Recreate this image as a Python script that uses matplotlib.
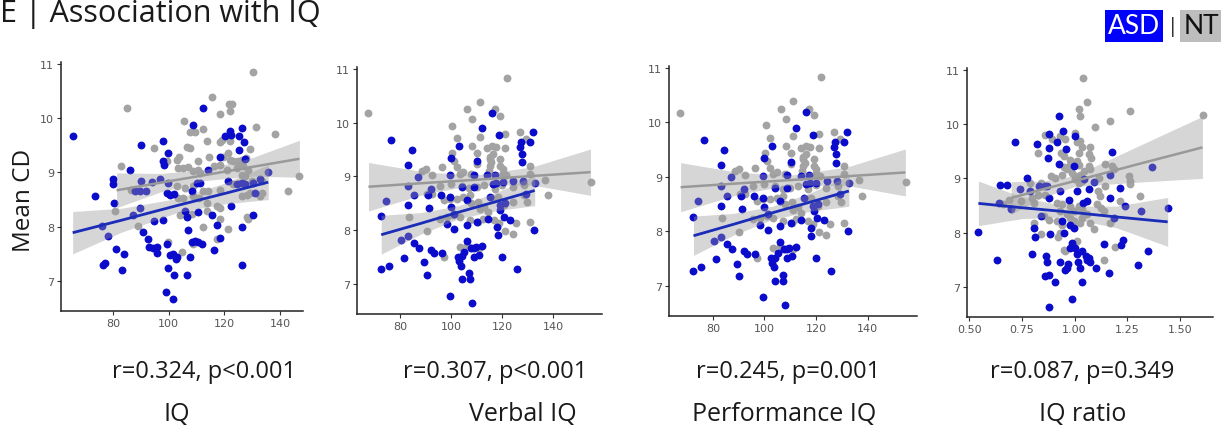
import matplotlib.pyplot as plt

FIG_W, FIG_H = 1221, 431

BLUE = "#0b0bcc"
BLUE_LINE = "#1a2cb8"
GREY = "#a3a3a3"
GREY_LINE = "#999999"
BAND = "#999999"
LABEL_FONT = ["Open Sans", "DejaVu Sans"]

plt.rcParams["font.family"] = ["Lato", "DejaVu Sans"]

# ---- panel 1: IQ ----
iq_asd_x = [65.4, 73.3, 76.0, 76.4, 77.0, 78.2, 80.0, 80.0, 80.2, 81.0, 83.0, 84.0, 86.0, 87.0, 87.8,
            89.6, 90.0, 89.8, 90.0, 90.8, 91.8, 92.6, 93.0, 93.8, 94.2, 94.8, 95.6, 95.8, 96.8, 97.8,
            97.8, 97.8, 98.2, 99.2, 99.0, 99.8, 99.8, 99.2, 99.8, 100.4, 100.4, 101.6, 101.6, 101.8,
            102.0, 102.6, 102.8, 105.8, 106.4, 106.7, 106.8, 107.6, 108.2, 108.2, 108.8, 109.4, 110.0,
            110.6, 110.6, 111.2, 111.8, 112.2, 114.0, 115.4, 116.4, 117.2, 118.4, 118.6, 120.2, 121.4,
            122.0, 122.4, 122.3, 124.4, 125.4, 125.3, 126.2, 126.2, 126.2, 126.5, 127.2, 127.4, 127.4,
            130.2, 130.4, 131.0, 132.8, 135.8]
iq_asd_y = [9.67, 8.56, 8.02, 7.30, 7.34, 7.83, 8.87, 8.79, 8.44, 7.59, 7.21, 7.50, 9.04, 8.22, 8.65,
            8.65, 9.50, 8.34, 8.84, 7.90, 8.65, 7.78, 7.63, 8.82, 7.61, 8.11, 7.51, 7.62, 8.87, 8.12,
            9.57, 9.21, 9.14, 7.68, 6.80, 9.35, 7.24, 8.62, 8.80, 8.59, 7.48, 7.50, 6.67, 8.61,
            7.11, 7.40, 7.44, 8.29, 7.12, 8.18, 7.94, 7.45, 8.65, 7.71, 9.87, 7.74, 8.81,
            7.72, 8.27, 8.81, 7.68, 10.18, 9.05, 8.22, 7.57, 8.03, 9.28, 7.80, 9.66, 8.85,
            9.77, 9.69, 8.39, 8.79, 9.66, 9.42, 8.00, 7.30, 8.81, 9.82, 9.55, 9.24, 8.78,
            8.21, 8.81, 8.62, 8.87, 9.00]
iq_nt_x = [82.8, 84.8, 80.6, 86.4, 88.8, 94.8, 99.4, 99.8, 102.8, 103.6, 103.4, 102.8, 103.4, 104.2,
           104.6, 105.6, 105.2, 105.8, 105.2, 106.4, 106.2, 107.6, 107.6, 107.0, 108.8, 108.8, 108.8,
           108.2, 108.8, 109.4, 110.6, 110.6, 111.2, 111.0, 112.4, 112.4, 112.4, 113.6, 113.6, 113.6,
           114.2, 114.5, 115.4, 116.3, 117.2, 117.2, 118.4, 118.4, 118.4, 118.4, 118.4, 118.4, 119.0,
           119.6, 120.8, 121.4, 121.4, 121.8, 122.2, 122.6, 122.0, 122.0, 123.2, 123.2, 124.4, 125.0,
           125.6, 126.2, 126.8, 126.2, 126.2, 127.4, 127.7, 128.0, 128.0, 128.6, 128.6, 129.2, 129.2,
           129.8, 130.2, 131.4, 132.8, 133.4, 133.4, 138.2, 143.0, 147.0]
iq_nt_y = [9.12, 10.18, 8.29, 8.67, 8.01, 9.44, 9.20, 7.71, 9.23, 9.28, 9.08, 8.75, 8.53, 8.22,
           7.53, 9.95, 9.08, 8.72, 8.53, 9.46, 8.23, 9.74, 9.45, 9.09, 9.02, 8.75, 8.56,
           8.23, 7.68, 9.74, 9.20, 9.05, 8.99, 8.53, 9.79, 8.65, 8.00, 9.58, 8.44, 8.29,
           8.65, 9.29, 10.39, 9.11, 8.38, 7.77, 10.07, 9.55, 9.14, 8.68, 8.35, 8.15, 9.60,
           9.29, 9.05, 9.35, 7.95, 10.26, 10.13, 10.26, 9.57, 9.23, 9.20, 8.78, 9.08, 9.20,
           8.81, 9.23, 9.11, 8.96, 8.56, 8.93, 9.26, 8.59, 8.18, 9.05, 8.14, 9.43, 8.62,
           8.84, 10.85, 9.83, 8.56, 8.62, 8.84, 9.70, 8.65, 8.93]
iq_asd_fit_x = [65.4, 83, 103, 120, 135.8]
iq_asd_fit_y = [7.89, 8.12, 8.39, 8.61, 8.82]
iq_asd_lo = [7.50, 7.90, 8.26, 8.42, 8.50]
iq_asd_hi = [8.28, 8.34, 8.52, 8.80, 9.14]
iq_nt_fit_x = [81.2, 97, 113, 130, 147]
iq_nt_fit_y = [8.67, 8.81, 8.95, 9.10, 9.25]
iq_nt_lo = [8.35, 8.64, 8.85, 8.93, 8.91]
iq_nt_hi = [8.99, 8.98, 9.05, 9.27, 9.59]

# ---- panels 2 and 3: verbal / performance IQ (same points in the source figure) ----
viq_asd_x = [72.3, 72.3, 75.5, 74.2, 76.4, 80.4, 81.3, 83.2, 83.2, 83.2, 83.2, 84.5, 85.5, 85.5, 87.1,
             87.3, 89.4, 90.3, 91.3, 90.9, 92.2, 92.2, 93.2, 95.8, 96.3, 98.4, 99.3, 99.3, 99.7, 99.3,
             99.9, 101.2, 101.2, 102.5, 103.1, 104.0, 103.8, 103.1, 104.0, 104.0, 105.1, 106.0, 106.1,
             106.1, 107.0, 107.3, 108.0, 107.6, 108.9, 109.6, 108.9, 110.2, 108.9, 108.9, 110.2, 110.8,
             112.1, 112.1, 114.1, 114.3, 115.3, 116.0, 116.2, 117.3, 117.7, 117.9, 118.2, 118.7, 118.9,
             119.2, 119.8, 120.1, 120.5, 120.9, 123.1, 124.3, 125.6, 126.9, 127.2, 127.8, 127.8, 128.2,
             129.2, 130.8, 132.1, 132.3, 132.7]
viq_asd_y = [8.26, 7.28, 7.34, 8.55, 9.67, 7.83, 7.49, 9.21, 8.83, 8.47, 7.89, 9.49, 8.65, 7.76, 8.99,
             7.67, 7.41, 7.18, 8.41, 8.65, 8.77, 7.64, 7.58, 8.65, 7.58, 8.12, 9.02, 8.62, 8.44, 6.79,
             9.35, 8.31, 8.02, 7.51, 7.43, 7.52, 7.34, 9.57, 8.80, 7.10, 7.60, 8.56, 8.10,
             7.80, 7.21, 7.09, 6.66, 7.67, 7.67, 7.70, 9.03, 9.28, 8.80, 7.51, 8.16, 7.55,
             9.89, 7.72, 9.02, 8.21, 8.62, 10.18, 8.86, 9.03, 8.88, 8.07, 7.92, 9.77, 8.47,
             8.38, 7.51, 8.89, 8.25, 8.50, 8.20, 8.92, 7.28, 9.55, 9.64, 9.26, 9.41, 8.92,
             8.68, 9.64, 9.83, 8.00, 8.88]
viq_nt_x = [67.4, 122.0, 111.1, 106.3, 117.3, 119.1, 108.3, 100.4, 111.1, 102.1, 121.0, 126.9, 129.1,
            108.2, 114.1, 116.0, 117.5, 121.0, 100.2, 110.2, 115.0, 116.2, 100.9, 115.0, 115.6, 119.1,
            119.1, 120.1, 110.2, 96.3, 90.0, 88.6, 115.0, 114.6, 131.0, 102.1, 104.7, 103.4, 107.9,
            92.5, 120.1, 121.4, 131.0, 136.8, 154.8, 100.0, 104.0, 107.0, 110.0, 113.0, 117.0, 120.0,
            124.0, 128.5, 95.7, 90.5, 92.5, 97.0, 99.5, 102.1, 104.7, 107.2, 107.9, 110.5, 111.1,
            113.0, 114.3, 116.9, 118.2, 119.5, 120.8, 124.0, 128.5, 129.7, 137.8, 83.5, 95.7, 98.3,
            100.8, 103.4, 107.2, 110.5, 112.4, 116.9, 118.8, 125.2, 131.0, 90.3, 103.4, 106.0, 107.9,
            111.0, 97.2, 121.2, 124.0]
viq_nt_y = [10.17, 10.83, 10.39, 10.25, 10.25, 10.13, 10.06, 9.94, 9.74, 9.72, 9.78, 9.82, 9.69,
            9.56, 9.53, 9.56, 9.55, 9.53, 9.44, 9.43, 9.37, 9.41, 9.29, 9.32, 9.26, 9.32,
            9.20, 9.14, 9.23, 9.17, 9.14, 9.10, 9.20, 9.11, 9.20, 9.17, 9.08, 9.05, 9.05,
            9.03, 9.05, 9.02, 9.05, 8.94, 8.90, 8.86, 8.83, 8.78, 8.80, 8.84, 8.77, 8.85,
            8.80, 8.84, 8.83, 8.68, 8.68, 8.56, 8.59, 8.59, 8.62, 8.65, 8.50, 8.53, 8.40,
            8.44, 8.34, 8.59, 8.62, 8.47, 8.47, 8.53, 8.65, 8.53, 8.65, 8.25, 8.22, 8.25,
            8.28, 8.25, 8.19, 8.16, 8.22, 8.19, 8.13, 8.13, 8.16, 7.99, 7.70, 7.73, 7.67,
            7.67, 7.51, 7.99, 7.93]
viq_asd_fit_x = [72.5, 88, 103, 118, 132.7]
viq_asd_fit_y = [7.92, 8.13, 8.34, 8.54, 8.74]
viq_asd_lo = [7.56, 7.93, 8.22, 8.37, 8.46]
viq_asd_hi = [8.28, 8.33, 8.46, 8.71, 9.02]
viq_nt_fit_x = [67.5, 90, 110, 132, 154.6]
viq_nt_fit_y = [8.81, 8.88, 8.94, 9.01, 9.08]
viq_nt_lo = [8.36, 8.68, 8.85, 8.84, 8.65]
viq_nt_hi = [9.26, 9.08, 9.03, 9.18, 9.51]

piq_asd_x, piq_asd_y = viq_asd_x, viq_asd_y
piq_nt_x, piq_nt_y = viq_nt_x, viq_nt_y

# ---- panel 4: IQ ratio ----
ratio_asd_x = [0.544, 0.631, 0.642, 0.645, 0.678, 0.697, 0.720, 0.741, 0.776, 0.791, 0.799, 0.810,
               0.812, 0.823, 0.830, 0.839, 0.859, 0.870, 0.862, 0.877, 0.867, 0.870, 0.875, 0.878,
               0.878, 0.878, 0.881, 0.883, 0.909, 0.917, 0.925, 0.925, 0.930, 0.933, 0.941, 0.949,
               0.946, 0.957, 0.965, 0.968, 0.961, 0.972, 0.980, 0.988, 0.980, 0.988, 0.999, 0.999,
               1.004, 1.004, 1.012, 1.017, 1.024, 1.012, 1.035, 1.035, 1.040, 1.046, 1.056, 1.059,
               1.067, 1.075, 1.059, 1.067, 1.091, 1.102, 1.138, 1.165, 1.169, 1.169, 1.177, 1.188,
               1.217, 1.221, 1.232, 1.240, 1.303, 1.314, 1.350, 1.369, 1.442]
ratio_asd_y = [8.01, 7.49, 8.54, 8.88, 8.88, 8.43, 9.66, 8.81, 9.01, 8.77, 7.60, 8.09,
               7.92, 9.63, 8.86, 8.30, 8.86, 8.86, 7.20, 7.23, 7.57, 7.47, 9.38, 9.81,
               8.64, 6.64, 9.55, 7.98, 7.10, 9.66, 10.15, 9.26, 8.77, 7.47, 8.21, 7.99,
               9.87, 7.32, 7.36, 7.42, 9.54, 8.61, 8.15, 7.81, 7.71, 6.78, 8.09, 9.23,
               9.78, 7.72, 7.60, 7.47, 7.35, 8.77, 7.66, 7.10, 8.55, 8.98, 7.57, 7.49,
               7.54, 7.47, 8.58, 8.80, 8.94, 7.35, 7.80, 7.26, 8.64, 9.07, 9.49, 8.27,
               8.83, 7.78, 7.87, 8.49, 7.41, 8.40, 7.66, 9.20, 8.45]
ratio_nt_x = [1.040, 1.020, 1.028, 1.059, 1.098, 1.169, 1.261, 1.610, 1.004, 1.012, 1.024, 1.035,
              1.075, 0.933, 0.891, 0.862, 0.957, 0.826, 0.936, 0.949, 1.020, 1.067, 1.078, 0.977,
              0.980, 1.012, 1.023, 1.067, 1.075, 1.146, 1.177, 1.185, 1.264, 1.258, 1.146, 1.111,
              0.949, 0.965, 0.941, 0.988, 1.004, 1.028, 1.046, 1.004, 1.020, 1.035, 0.889, 0.909,
              0.839, 0.791, 0.799, 0.810, 0.826, 0.862, 0.917, 0.941, 0.933, 0.980, 0.996, 1.020,
              1.035, 0.965, 0.980, 1.035, 1.059, 0.854, 0.878, 0.917, 0.941, 0.996, 1.028, 1.075,
              1.091, 1.125, 1.138, 1.169, 0.810, 0.839, 0.933, 0.920, 0.949, 0.957, 1.012, 1.138,
              1.193, 1.311, 0.744, 0.689, 0.697, 0.662, 1.106, 1.122, 1.114, 1.264, 1.217]
ratio_nt_y = [10.84, 10.27, 10.15, 10.40, 9.94, 10.06, 10.24, 10.16, 9.84, 9.67, 9.68, 9.58,
              9.58, 9.78, 9.72, 9.79, 9.73, 9.46, 9.46, 9.41, 9.47, 9.44, 9.38, 9.33,
              9.25, 9.32, 9.24, 9.23, 9.17, 9.26, 9.23, 9.17, 8.95, 9.04, 8.86, 8.77,
              9.20, 9.17, 9.07, 9.10, 9.04, 9.07, 9.13, 8.98, 8.92, 8.95, 9.04, 9.01,
              8.92, 8.92, 8.64, 8.55, 8.70, 8.70, 8.55, 8.52, 8.40, 8.49, 8.40, 8.49,
              8.43, 8.34, 8.27, 8.27, 8.34, 8.30, 8.24, 8.21, 8.15, 8.21, 8.18, 8.18,
              8.06, 8.46, 8.40, 8.18, 8.18, 7.98, 7.99, 7.92, 7.69, 7.66, 7.84, 7.50,
              7.73, 8.67, 8.58, 8.61, 8.46, 8.52, 8.52, 8.67, 9.00, 8.89, 8.58]
ratio_asd_fit_x = [0.544, 0.75, 0.95, 1.2, 1.442]
ratio_asd_fit_y = [8.54, 8.46, 8.39, 8.29, 8.20]
ratio_asd_lo = [8.13, 8.26, 8.29, 8.09, 7.75]
ratio_asd_hi = [8.95, 8.66, 8.49, 8.49, 8.65]
ratio_nt_fit_x = [0.70, 0.85, 1.0, 1.3, 1.607]
ratio_nt_fit_y = [8.64, 8.80, 8.95, 9.26, 9.57]
ratio_nt_lo = [8.34, 8.65, 8.85, 8.93, 9.00]
ratio_nt_hi = [8.94, 8.95, 9.05, 9.59, 10.14]

r_labels = ["r=0.324, p<0.001", "r=0.307, p<0.001", "r=0.245, p=0.001", "r=0.087, p=0.349"]
x_labels = ["IQ", "Verbal IQ", "Performance IQ", "IQ ratio"]
iq_ticks = [80, 100, 120, 140]
ratio_ticks = [0.50, 0.75, 1.00, 1.25, 1.50]


def px_axes(fig, left, top, right, bottom):
    return fig.add_axes([left / FIG_W, 1 - bottom / FIG_H,
                         (right - left) / FIG_W, (bottom - top) / FIG_H])


def draw_panel(ax, asd, nt, asd_fit, nt_fit, xlim, ticks, ticklabels):
    ax.scatter(nt[0], nt[1], s=32, color=GREY, linewidths=0, zorder=2)
    ax.scatter(asd[0], asd[1], s=32, color=BLUE, linewidths=0, zorder=3)
    for fx, fy, lo, hi, col, lw in [(*asd_fit, BLUE_LINE, 2.0), (*nt_fit, GREY_LINE, 1.8)]:
        ax.fill_between(fx, lo, hi, color=BAND, alpha=0.4, linewidth=0, zorder=4)
        ax.plot(fx, fy, color=col, lw=lw, zorder=5, solid_capstyle="butt")
    ax.set_xlim(*xlim)
    ax.set_ylim(6.45, 11.03)
    ax.set_xticks(ticks)
    ax.set_xticklabels(ticklabels)
    ax.set_yticks([7, 8, 9, 10, 11])
    for side in ["top", "right"]:
        ax.spines[side].set_visible(False)
    for side in ["left", "bottom"]:
        ax.spines[side].set_color("#222222")
        ax.spines[side].set_linewidth(1.1)
    ax.tick_params(length=3, width=0.8, color="#333333", labelcolor="#555555",
                   labelsize=8, pad=2)
    for lab in ax.get_xticklabels() + ax.get_yticklabels():
        lab.set_family(["DejaVu Sans"])


fig = plt.figure(figsize=(FIG_W / 100, FIG_H / 100), dpi=100)

ax1 = px_axes(fig, 61, 63, 303, 312)
draw_panel(ax1, (iq_asd_x, iq_asd_y), (iq_nt_x, iq_nt_y),
           (iq_asd_fit_x, iq_asd_fit_y, iq_asd_lo, iq_asd_hi),
           (iq_nt_fit_x, iq_nt_fit_y, iq_nt_lo, iq_nt_hi),
           (61.2, 148.3), iq_ticks, [str(t) for t in iq_ticks])

ax2 = px_axes(fig, 357, 68, 602, 315)
draw_panel(ax2, (viq_asd_x, viq_asd_y), (viq_nt_x, viq_nt_y),
           (viq_asd_fit_x, viq_asd_fit_y, viq_asd_lo, viq_asd_hi),
           (viq_nt_fit_x, viq_nt_fit_y, viq_nt_lo, viq_nt_hi),
           (63.0, 159.1), iq_ticks, [str(t) for t in iq_ticks])

ax3 = px_axes(fig, 669, 67, 917, 317)
draw_panel(ax3, (piq_asd_x, piq_asd_y), (piq_nt_x, piq_nt_y),
           (viq_asd_fit_x, viq_asd_fit_y, viq_asd_lo, viq_asd_hi),
           (viq_nt_fit_x, viq_nt_fit_y, viq_nt_lo, viq_nt_hi),
           (63.0, 159.1), iq_ticks, [str(t) for t in iq_ticks])

ax4 = px_axes(fig, 967, 69, 1213, 318)
draw_panel(ax4, (ratio_asd_x, ratio_asd_y), (ratio_nt_x, ratio_nt_y),
           (ratio_asd_fit_x, ratio_asd_fit_y, ratio_asd_lo, ratio_asd_hi),
           (ratio_nt_fit_x, ratio_nt_fit_y, ratio_nt_lo, ratio_nt_hi),
           (0.49, 1.657), ratio_ticks, [f"{t:.2f}" for t in ratio_ticks])


def ftext(x, y, s, **kw):
    fig.text(x / FIG_W, 1 - y / FIG_H, s, **kw)


ftext(0, 22, "E | Association with IQ", fontsize=22, color="#1a1a1a", va="baseline", ha="left",
      family=LABEL_FONT)

# legend chips
ftext(1134, 27, "ASD", fontsize=19, color="white", ha="center", va="center",
      bbox=dict(boxstyle="square,pad=0.12", fc="#0000ff", ec="none"))
ftext(1173, 27, "|", fontsize=16, color="#333333", ha="center", va="center")
ftext(1201, 27, "NT", fontsize=19, color="#111111", ha="center", va="center",
      bbox=dict(boxstyle="square,pad=0.12", fc="#bdbdbd", ec="none"))

ftext(24, 200, "Mean CD", fontsize=17.5, rotation=90, ha="center", va="center", color="#1a1a1a",
      family=LABEL_FONT)

for cx, lab in zip([204, 495, 788, 1082], r_labels):
    ftext(cx, 372, lab, fontsize=17, ha="center", va="center", color="#1a1a1a", family=LABEL_FONT)
for cx, lab in zip([177, 523, 784, 1083], x_labels):
    ftext(cx, 415, lab, fontsize=18, ha="center", va="center", color="#1a1a1a", family=LABEL_FONT)

fig.savefig("out.png", dpi=100)
